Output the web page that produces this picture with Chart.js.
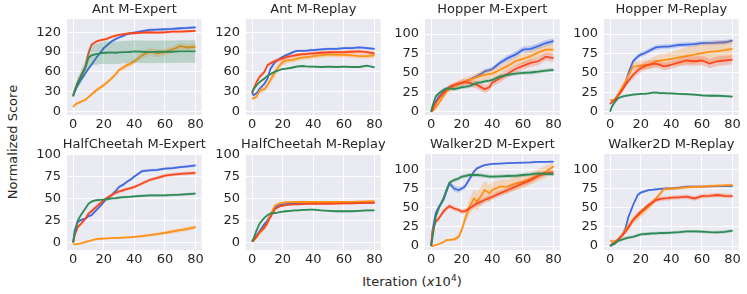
<!DOCTYPE html>
<html><head><meta charset="utf-8">
<script src="https://cdn.jsdelivr.net/npm/chart.js@4.4.1/dist/chart.umd.min.js"></script>
<style>
html,body{margin:0;padding:0;width:747px;height:294px;overflow:hidden;background:#fff;}
canvas{position:absolute;}
.lbl{position:absolute;color:#262626;font-size:13px;font-family:"DejaVu Sans";white-space:nowrap;line-height:1;}
#ylab{left:11.5px;top:142px;transform:translate(-50%,-50%) rotate(-90deg);}
#xlab{left:412px;top:281px;transform:translate(-50%,-50%);}
#xlab sup{font-size:9px;vertical-align:5px;line-height:0;}
</style></head><body>
<div class="lbl" id="ylab">Normalized Score</div>
<div class="lbl" id="xlab">Iteration (<i>x</i>10<sup>4</sup>)</div>
<script>
// ---------------- data ----------------
const iterations = [0,1,3,5,8,10,12,15,18,20,22,25,28,30,33,35,38,40,45,50,55,60,65,70,75,80];
const xTicks = [0,20,40,60,80];
const titles = ['Ant M-Expert','Ant M-Replay','Hopper M-Expert','Hopper M-Replay','HalfCheetah M-Expert','HalfCheetah M-Replay','Walker2D M-Expert','Walker2D M-Replay'];
const antTicks = [0,30,60,90,120];
const otherTicks = [0,25,50,75,100];

// Ant M-Expert
const antExpertBlue   = [24,30,40,48,58,65,71,81,90,96,100,106,110,112,115,117,118.5,119.5,121.5,123.5,124,124.5,125,126,126.5,127.5];
const antExpertOrange = [7,10,13,15,18,22,26,32,37,40,44,50,57,63,67,70,73,76,85,91,88,90,94,99,97,98];
const antExpertRed    = [24,32,44,54,68,88,101,106,108,109,110,113,115,116,117,118,118.5,118.5,119.5,120,119.5,120,121,121,121.5,122];
const antExpertGreen  = [23,32,44,52,66,81,85,87,88,89,89,89.5,89,89.5,90,90,90.5,91,90.5,90,90.5,90.5,90.5,91,91,91];
const antExpertBlueBand   = [1,2,2,2,2,2,2,2,2,2,2,2,2,2,2,2,2,2,2,2,2,2,2,2,2,2];
const antExpertOrangeBand = [2,2,2,2,2,2,2,3,3,3,3,3,3,3,4,4,4,4,5,6,6,5,5,5,5,5];
const antExpertRedBand    = [1,2,2,2,2,2,2,2,2,2,2,2,2,2,2,2,2,2,2,2,2,2,2,2,2,2];
const antExpertGreenBand  = [2,4,7,10,12,14,15,16,16,17,17,17,17,17,17,17,17,17,17,17,17,17,17,17,17,17];

// Ant M-Replay
const antReplayBlue   = [28,25,28,35,42,50,65,75,80,83,85,88,91,92,92,92,93,93,94,95,95,96,96,97,96,95];
const antReplayOrange = [20,20,23,32,34,40,48,60,70,75,77,78,79,80.5,82,82,83,84,85,86.5,86,86,85,84,84,85];
const antReplayRed    = [28,35,45,53,60,70,73,76.5,79,80.5,82,84,85,86,87,87,88,88,89,90,90,90,90.5,91,90,88];
const antReplayGreen  = [29,34,40,45,50,54,57,60.5,63,64.5,65,66,67.5,68.5,69,68.5,68,68,67.5,68,67.5,68,67.5,67.5,69.5,67];
const antReplayBlueBand   = [2,2,2,2,2,2,3,3,2,2,2,2,2,2,2,2,2,2,2,2,2,2,2,2,2,2];
const antReplayOrangeBand = [2,2,3,3,4,5,6,6,6,5,5,4,4,4,4,4,4,4,4,4,4,4,4,4,4,4];
const antReplayRedBand    = [2,2,3,3,3,3,3,3,3,3,2.5,2.5,2.5,2.5,2.5,2.5,2.5,2.5,2.5,2.5,2.5,2.5,2.5,2.5,2.5,2.5];
const antReplayGreenBand  = [1,1.5,1.5,1.5,1.5,1.5,1.5,1.5,1.5,1.5,1.5,1.5,1.5,1.5,1.5,1.5,1.5,1.5,1.5,1.5,1.5,1.5,1.5,1.5,1.5,1.5];

// Hopper M-Expert
const hopperExpertBlue   = [0,4,13,19,25,28,30,33,35.5,37,38.5,41,44,46,49,52,53.5,55,63,69,73.5,80,81,84.5,88.5,91];
const hopperExpertOrange = [0,1,5,11,20,26,29,32.5,35,37,39,41,43,44.5,46.5,47.5,48.5,49,54,59,65,68,71.5,76.5,80,80];
const hopperExpertRed    = [0,3,11,17,24,28,32,34.5,36.5,37.5,38,37,35.5,34.5,31,29,31.5,37.5,43,49,55,59,63,65,71,69];
const hopperExpertGreen  = [0,8,19.5,23.5,28,30,30,29,30.5,31.5,32,33,35.5,37,38,39,40,41,45.5,47.5,49,50,50.5,51.5,53,54];
const hopperExpertBlueBand   = [1,2,2,2,2,2,2,2,2,2,2,2,2,2,3,3,3,3,3,4,4,4,4,4,4,4];
const hopperExpertOrangeBand = [1,1,2,3,3,4,4,4,5,5,5,5,5,6,6,6,6,6,6,6,6,7,7,7,7,7];
const hopperExpertRedBand    = [1,1,2,2,3,3,3,3,3,4,4,4,5,5,5,5,5,5,5,5,5,5,5,5,5,5];
const hopperExpertGreenBand  = [1,2,2.5,2.5,2.5,2.5,2.5,2.5,2.5,2.5,2.5,2.5,2.5,2.5,2.5,2.5,2.5,2.5,2.5,2.5,2.5,2.5,2.5,2.5,2.5,2.5];

// Hopper M-Replay
const hopperReplayBlue   = [10,12,15,21.5,30,37,50,65,71,73.5,75,78,81,83,83.5,84,84,84.5,86,86.5,87,88.5,88.5,89,89.5,91.5];
const hopperReplayOrange = [15,15,15.5,21.5,32,39,47,58,59,59.5,60,60.5,63,65,66,66.5,67.5,68,70,72,73.5,75.5,77,78,79.5,81];
const hopperReplayRed    = [10,12,15,19.5,28,34.5,40,47.5,53,56,58,60.5,61.5,62,60,58.5,59.5,60.5,63.5,66,65,66,62,65,66,67];
const hopperReplayGreen  = [0,6,12,17,19.5,20.5,21,22,22.5,23,23,23.5,24.5,24.5,24,24,23.5,23.5,23,22.5,22,21,20.5,20.5,20,19.5];
const hopperReplayBlueBand   = [1,1,2,2,2,3,3,3,3,3,3,3,3,3,3,3,3,3,3,3,3,3,3,3,3,3];
const hopperReplayOrangeBand = [1,1,1,2,3,3,4,5,6,6,6,6,7,7,8,8,8,9,10,11,12,12,13,13,12,11];
const hopperReplayRedBand    = [1,1,2,2,3,3,4,5,5,5,5,5,5,5,5,5,5,5,5,6,6,6,6,6,6,6];
const hopperReplayGreenBand  = [1,1.5,1.5,1.5,1.5,1.5,1.5,1.5,1.5,1.5,1.5,1.5,1.5,1.5,1.5,1.5,1.5,1.5,1.5,1.5,1.5,1.5,1.5,1.5,1.5,1.5];

// HalfCheetah M-Expert
const cheetahExpertBlue   = [0,14,23,25.5,27,30,31,36.5,42,46,50,53.6,59,63,66,68.7,72,75,81,82,82.5,84,84.5,85.7,86.5,87.5];
const cheetahExpertOrange = [-2,-2,-1.5,-1,0.5,1.5,2.5,3.8,4.3,4.5,4.6,5,5.2,5.3,5.6,5.8,6.1,6.4,7.2,8.3,9.5,11,12.5,14,15.5,17.5];
const cheetahExpertRed    = [0,8,17.5,21,27,32.8,35.5,40.4,45,48,50.5,53.6,56.5,58,59.5,60.5,62,63,67,71,73.5,76,77,78,78.5,79];
const cheetahExpertGreen  = [0,10,25,31,38.5,44,46.5,48,48.5,48.7,49,50,50.5,51,51.5,51.5,52,52.5,53,53.5,53.5,53.6,54,54.3,55,55.5];
const cheetahExpertBlueBand   = [0.5,1.5,1.5,1.5,1.5,1.5,1.5,1.5,1.5,1.5,1.5,1.5,1.5,1.5,1.5,1.5,1.5,1.5,1.5,1.5,1.5,1.5,1.5,1.5,1.5,1.5];
const cheetahExpertOrangeBand = [0.5,0.5,0.5,0.5,0.7,0.8,1,1,1,1,1,1,1,1,1,1,1.2,1.2,1.4,1.6,1.8,2,2.2,2.4,2.5,2.5];
const cheetahExpertRedBand    = [0.5,2,2,2,2,2,2,2,2,2,2,2,2,2,2,2,2,2,2,2,2,2,2,2,2,2];
const cheetahExpertGreenBand  = [0.5,1.5,1.5,1.5,1.5,1.5,1.5,1.5,1.5,1.5,1.5,1.5,1.5,1.5,1.5,1.5,1.5,1.5,1.5,1.5,1.5,1.5,1.5,1.5,1.5,1.5];

// HalfCheetah M-Replay
const cheetahReplayBlue   = [1,3,8,13,21,25,31,40,42.5,43,43.5,44,44,44,44.5,44.5,45,45,45,45,45,45,45,45.3,45.3,45.3];
const cheetahReplayOrange = [1,2,6,11,16,21.5,32,42,44.5,45.3,45.6,45.8,46,46,46,46,46,46,46,46,46,46,46.2,46.5,46.7,47];
const cheetahReplayRed    = [1,2.5,7,12,17.5,23,29,38,41,42,42.5,43,43.2,43.4,43.6,43.8,44,44,44,44,44.2,44.5,44.5,44.7,45,45];
const cheetahReplayGreen  = [1,5,14,22,28,31,33,33.5,34.5,35,35.5,36,36.5,36.6,37,37,37.3,37.4,36.5,36,35.5,35.5,35.5,36,36.5,36.5];
const cheetahReplayBlueBand   = [0.5,1,1,1,1,1,1,1,1,1,1,1,1,1,1,1,1,1,1,1,1,1,1,1,1,1];
const cheetahReplayOrangeBand = [0.5,1,1,1,1,1,1,1,1,1,1,1,1,1,1,1,1,1,1,1,1,1,1,1,1,1];
const cheetahReplayRedBand    = [0.5,1,1,1,1,1,1,1,1,1,1,1,1,1,1,1,1,1,1,1,1,1,1,1,1,1];
const cheetahReplayGreenBand  = [0.5,1,1,1,1,1,1,1,1,1,1,1,1,1,1,1,1,1,1,1,1,1,1,1,1,1];

// Walker2D M-Expert
const walkerExpertBlue   = [0,21,42.6,51,60,71,81.7,75,73,75,77.4,87,97,101.3,104,105.6,106.5,107,107.5,108,108.3,108.7,109,109.6,109.8,110];
const walkerExpertOrange = [0,0,1,2.6,5,7.8,8,8.7,12,21,34,51,62,58,66.5,73,68.7,73,77.4,77.4,81.7,84,88,92.6,97,104];
const walkerExpertRed    = [0,21,31.7,36,44.8,49,52,49,47,44.8,45.5,49,53,55.6,58,60,62.5,64.3,68.7,73,77.4,81.7,86,91.3,94.8,96];
const walkerExpertGreen  = [0,12,38,49,62,73,82.6,86,88,90.4,91,92.6,92.6,92.6,92,91.5,90.5,90.4,90.8,91.3,91.5,92.6,93.5,94.8,94,93.5];
const walkerExpertBlueBand   = [1,3,3,3,3,3,3,4,4,3,3,3,2,2,1.5,1.5,1,1,1,1,1,1,1,1,1,1];
const walkerExpertOrangeBand = [0.5,0.5,1,1,1,1.5,1.5,2,3,4,6,10,12,12,12,12,11,10,9,9,9,9,8,8,8,6];
const walkerExpertRedBand    = [1,2,3,3,3,3,3,3,3,3,3,3,4,4,4,4,4,4,4,4,4,4,4,4,3,3];
const walkerExpertGreenBand  = [1,2.5,2.5,2.5,2.5,2.5,2.5,2.5,2.5,2.5,2.5,2.5,2.5,2.5,2.5,2.5,2.5,2.5,2.5,2.5,2.5,2.5,2.5,2.5,2.5,2.5];

// Walker2D M-Replay
const walkerReplayBlue   = [0,2,5.6,7.8,14.3,23,38,53.5,66.5,69.6,71,73,73.5,74,74.5,74.8,75,75,76,77.4,77.4,77.4,77.8,78,78,78];
const walkerReplayOrange = [7,6.5,5.6,7.8,15,21,26,34,39,42.6,46,51,57,62,69,74,74.5,75,75.5,76.5,77,77.4,78,78.7,79,79.6];
const walkerReplayRed    = [0,2,4,7.8,14,18.7,24,34,40.5,44.8,48,53.5,57.5,60,61.5,62,62.5,63,63.5,64.3,62,65,65.5,66.5,65.5,65];
const walkerReplayGreen  = [0,1,3,6.5,8.5,10,11,12,14,15.2,15.5,16,16.5,16.5,17,17,17.2,17.4,18,19,19,18.7,18,17.8,18.5,20];
const walkerReplayBlueBand   = [0.5,1.5,1.5,1.5,1.5,1.5,1.5,1.5,1.5,1.5,1.5,1.5,1.5,1.5,1.5,1.5,1.5,1.5,1.5,1.5,1.5,1.5,1.5,1.5,1.5,1.5];
const walkerReplayOrangeBand = [3,2,2,2,3,4,5,5,5,5,5,4,4,3,3,2,2,2,2,2,2,2,2,2,2,2];
const walkerReplayRedBand    = [1,2,3,3,3,3,3,3,3,3,3,3,3,3,3,3,3,3,3,3,3,3,3,3,3,3];
const walkerReplayGreenBand  = [1,2,2,2,2,2,2,2,2,2,2,2,2,2,2,2,2,2,2,2,2,2,2,2,2,2];

// ---------------- styling / layout ----------------
const COLORS = {blue:[65,105,225], orange:[255,145,20], red:[250,72,28], green:[46,139,87]};
const COL_LEFT = [67,246,425,604];
const ROW_TOP = [19,154];
const PW = 136, PH = 96, YAX_W = 42, TITLE_H = 19, XAX_H = 22, RPAD = 3;
const FONT = '"DejaVu Sans"';
const FS = 13;
const TXT = '#262626';

const panels = [
  {t:0, c:0, r:0, yMin:-5, yMax:140, yt:antTicks, s:[antExpertBlue,antExpertOrange,antExpertRed,antExpertGreen], b:[antExpertBlueBand,antExpertOrangeBand,antExpertRedBand,antExpertGreenBand]},
  {t:1, c:1, r:0, yMin:-5, yMax:140, yt:antTicks, s:[antReplayBlue,antReplayOrange,antReplayRed,antReplayGreen], b:[antReplayBlueBand,antReplayOrangeBand,antReplayRedBand,antReplayGreenBand]},
  {t:2, c:2, r:0, yMin:-4.3, yMax:119.5, yt:otherTicks, s:[hopperExpertBlue,hopperExpertOrange,hopperExpertRed,hopperExpertGreen], b:[hopperExpertBlueBand,hopperExpertOrangeBand,hopperExpertRedBand,hopperExpertGreenBand]},
  {t:3, c:3, r:0, yMin:-4.3, yMax:119.5, yt:otherTicks, s:[hopperReplayBlue,hopperReplayOrange,hopperReplayRed,hopperReplayGreen], b:[hopperReplayBlueBand,hopperReplayOrangeBand,hopperReplayRedBand,hopperReplayGreenBand]},
  {t:4, c:0, r:1, yMin:-8.5, yMax:100.5, yt:otherTicks, s:[cheetahExpertBlue,cheetahExpertOrange,cheetahExpertRed,cheetahExpertGreen], b:[cheetahExpertBlueBand,cheetahExpertOrangeBand,cheetahExpertRedBand,cheetahExpertGreenBand]},
  {t:5, c:1, r:1, yMin:-8.5, yMax:100.5, yt:otherTicks, s:[cheetahReplayBlue,cheetahReplayOrange,cheetahReplayRed,cheetahReplayGreen], b:[cheetahReplayBlueBand,cheetahReplayOrangeBand,cheetahReplayRedBand,cheetahReplayGreenBand]},
  {t:6, c:2, r:1, yMin:-5.2, yMax:120, yt:otherTicks, s:[walkerExpertBlue,walkerExpertOrange,walkerExpertRed,walkerExpertGreen], b:[walkerExpertBlueBand,walkerExpertOrangeBand,walkerExpertRedBand,walkerExpertGreenBand]},
  {t:7, c:3, r:1, yMin:-5.2, yMax:120, yt:otherTicks, s:[walkerReplayBlue,walkerReplayOrange,walkerReplayRed,walkerReplayGreen], b:[walkerReplayBlueBand,walkerReplayOrangeBand,walkerReplayRedBand,walkerReplayGreenBand]}
];

const bgPlugin = {
  id:'bg',
  beforeDraw(chart){
    const {ctx, chartArea:a} = chart;
    ctx.save(); ctx.fillStyle = '#EAEAF2';
    ctx.fillRect(a.left, a.top, a.right-a.left, a.bottom-a.top);
    ctx.restore();
  }
};
const titlePlugin = {
  id:'panelTitle',
  afterDraw(chart, args, opts){
    const {ctx, chartArea:a} = chart;
    ctx.save();
    ctx.font = FS + 'px ' + FONT; ctx.fillStyle = TXT;
    ctx.textAlign = 'center'; ctx.textBaseline = 'middle';
    ctx.fillText(opts.text, (a.left+a.right)/2, a.top - 9);
    ctx.restore();
  }
};

const names = ['blue','orange','red','green'];
panels.forEach(p => {
  const cv = document.createElement('canvas');
  const W = YAX_W + PW + RPAD, H = TITLE_H + PH + XAX_H;
  cv.width = W; cv.height = H;
  cv.style.width = W + 'px'; cv.style.height = H + 'px';
  cv.style.left = (COL_LEFT[p.c] - YAX_W) + 'px';
  cv.style.top = (ROW_TOP[p.r] - TITLE_H) + 'px';
  document.body.appendChild(cv);

  const datasets = [];
  names.forEach((n, k) => {
    const [r,g,b] = COLORS[n];
    const mean = p.s[k], band = p.b[k];
    const lowIdx = datasets.length;
    const depth = (3 - k) * 2; // green drawn last (on top)
    datasets.push({
      data: iterations.map((x,i) => ({x, y: mean[i] - band[i]})),
      borderColor:'rgba(0,0,0,0)', backgroundColor:'rgba(0,0,0,0)', pointRadius:0, fill:false, order: depth + 1
    });
    datasets.push({
      data: iterations.map((x,i) => ({x, y: mean[i] + band[i]})),
      borderColor:'rgba(0,0,0,0)', backgroundColor:`rgba(${r},${g},${b},0.25)`, pointRadius:0,
      fill:{target: lowIdx}, order: depth + 1
    });
    datasets.push({
      data: iterations.map((x,i) => ({x, y: mean[i]})),
      borderColor:`rgb(${r},${g},${b})`, borderWidth:1.8, pointRadius:0, fill:false, order: depth
    });
  });

  new Chart(cv, {
    type:'line',
    data:{datasets},
    plugins:[bgPlugin, titlePlugin],
    options:{
      responsive:false, animation:false, devicePixelRatio:1,
      layout:{padding:{left:0, top:TITLE_H, right:RPAD, bottom:0}},
      elements:{line:{tension:0}},
      plugins:{legend:{display:false}, tooltip:{enabled:false}, title:{display:false},
               panelTitle:{text:titles[p.t]}},
      scales:{
        x:{type:'linear', min:-4, max:84,
           afterBuildTicks: ax => { ax.ticks = xTicks.map(v => ({value:v})); },
           afterFit: ax => { ax.height = XAX_H; },
           grid:{color:'#ffffff', lineWidth:1, drawTicks:false},
           border:{display:false},
           ticks:{autoSkip:false, maxRotation:0, padding:2, color:TXT, font:{family:'DejaVu Sans', size:FS}}},
        y:{type:'linear', min:p.yMin, max:p.yMax,
           afterBuildTicks: ax => { ax.ticks = p.yt.map(v => ({value:v})); },
           afterFit: ax => { ax.width = YAX_W; },
           grid:{color:'#ffffff', lineWidth:1, drawTicks:false},
           border:{display:false},
           ticks:{autoSkip:false, padding:6, color:TXT, font:{family:'DejaVu Sans', size:FS}}}
      }
    }
  });
});
</script>
</body></html>
